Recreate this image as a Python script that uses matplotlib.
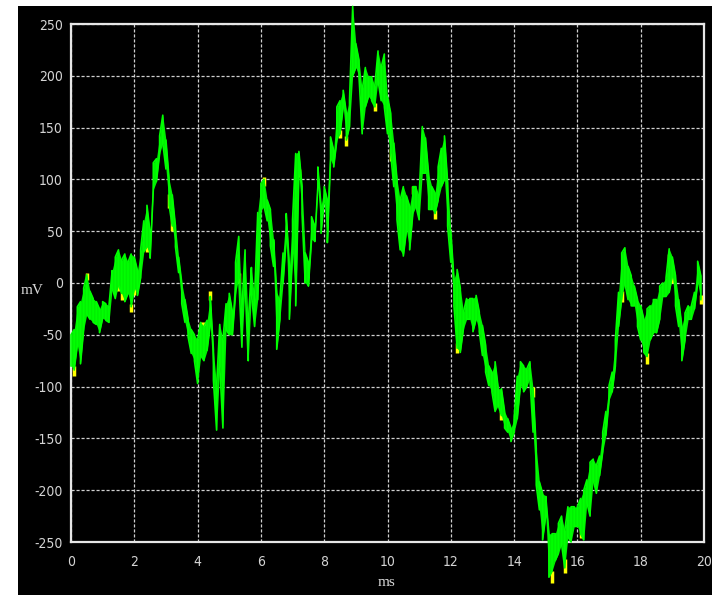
import numpy as np
import matplotlib
matplotlib.use("Agg")
import matplotlib.pyplot as plt
from matplotlib.patches import Rectangle

# Sample times (ms) of the recorded trace, one every 0.1 ms
t_ms = np.round(np.arange(0.0, 20.0, 0.1), 1)

# Lower and upper envelope of the green channel at each sample (mV)
green_lo = [
    -80, -84, -60, -78, -45, -30, -35, -38, -40, -48,
    -34, -36, -38, -5, -15, -2, -10, -18, -10, -23,
    -5, -12, 5, 30, 35, 24, 90, 98, 125, 135,
    110, 75, 55, 35, 10, -20, -38, -52, -68, -75,
    -97, -70, -75, -65, -40, -94, -142, -80, -140, -45,
    -50, -50, -10, 5, -62, 0, -75, -10, -42, -16,
    70, 74, 60, 36, 16, -64, -35, 0, 42, -35,
    29, -22, 106, 67, 0, -3, 42, 40, 93, 48,
    80, 39, 119, 112, 138, 144, 170, 138, 151, 200,
    208, 199, 144, 170, 180, 176, 170, 196, 176, 170,
    144, 125, 93, 61, 32, 26, 51, 32, 67, 74,
    61, 106, 106, 71, 71, 67, 80, 93, 100, 55,
    20, -22, -63, -67, -44, -35, -35, -47, -35, -47,
    -70, -86, -99, -105, -124, -118, -128, -140, -144, -153,
    -144, -131, -99, -105, -100, -92, -144, -195, -219, -248,
    -225, -284, -278, -268, -261, -252, -275, -245, -250, -235,
    -235, -242, -248, -212, -225, -190, -203, -186, -163, -147,
    -113, -105, -80, -42, -15, 0, -16, -22, -22, -42,
    -55, -67, -71, -55, -48, -48, -35, -13, -13, -9,
    7, -22, -42, -75, -55, -35, -35, -25, 0, -16,
]
green_hi = [
    -50, -45, -23, -18, -5, 8, -8, -15, -18, -25,
    -18, -20, -22, 12, 25, 32, 22, 28, 20, 28,
    25, 12, 32, 60, 75, 48, 116, 120, 142, 162,
    138, 100, 85, 55, 25, 0, -16, -35, -45, -50,
    -55, -38, -42, -36, -13, -65, -100, -40, -55, -20,
    -10, -28, 20, 45, -25, 32, -40, 15, -15, 68,
    96, 100, 80, 71, 42, -9, -16, 29, 67, 16,
    61, 125, 127, 93, 29, 20, 64, 55, 112, 74,
    93, 80, 141, 128, 170, 176, 186, 164, 176, 267,
    231, 215, 186, 208, 199, 199, 190, 224, 208, 221,
    180, 164, 135, 100, 80, 93, 84, 74, 93, 93,
    84, 151, 140, 105, 93, 87, 112, 130, 142, 97,
    50, 4, 13, -5, -28, -15, -15, -15, -12, -28,
    -41, -60, -80, -86, -76, -102, -102, -124, -131, -140,
    -131, -90, -76, -80, -83, -76, -102, -160, -192, -203,
    -206, -242, -242, -242, -232, -225, -239, -216, -216, -216,
    -216, -208, -200, -190, -173, -170, -176, -167, -144, -124,
    -99, -86, -55, -9, 29, 34, 16, 7, -3, -16,
    -22, -35, -25, -22, -16, -16, -3, 0, 5, 33,
    25, 7, -16, -42, -29, -22, -22, -9, 21, 7,
]

# Second (yellow) channel where it shows beside the green one: time, low, high
yellow_t = [0.1, 0.5, 1.5, 1.6, 1.9, 2.0, 2.4, 3.1, 3.2, 4.1, 4.2, 4.4,
            5.3, 6.1, 7.2, 8.5, 8.7, 9.6, 10.1, 10.8, 11.5, 12.2, 13.6,
            14.6, 15.2, 15.6, 16.1, 17.4, 18.2, 18.9, 19.0, 19.9]
yellow_lo = [-90, 3, -8, -16, -28, -12, 30, 72, 50, -48, -46, -16,
             0, 94, 102, 140, 132, 166, 118, 86, 62, -68, -132,
             -110, -290, -280, -246, -18, -78, 16, 0, -20]
yellow_hi = [-80, 10, 0, -8, -20, -4, 40, 86, 64, -38, -38, -8,
             10, 102, 110, 148, 142, 174, 130, 94, 70, -58, -124,
             -100, -278, -266, -236, -8, -68, 28, 10, -12]

x_ticks = list(range(0, 21, 2))
y_ticks = list(range(-250, 251, 50))

fig = plt.figure(figsize=(7.12, 5.95), dpi=100, facecolor="white")
# black instrument panel behind the plot
fig.patches.append(Rectangle((18 / 712, 0), 1 - 18 / 712, 589 / 595,
                             transform=fig.transFigure, facecolor="black",
                             edgecolor="none", zorder=-10))

ax = fig.add_axes([71 / 712, 53 / 595, 633 / 712, 518 / 595])
ax.set_facecolor("black")
ax.set_xlim(0, 20)
ax.set_ylim(-250, 250)
ax.set_xticks(x_ticks)
ax.set_yticks(y_ticks)

tick_kw = dict(family="DejaVu Sans", fontstretch="condensed", fontsize=10, color="#d4d4d4")
ax.set_xticklabels([str(v) for v in x_ticks], **tick_kw)
ax.set_yticklabels([str(v) for v in y_ticks], **tick_kw)
ax.tick_params(axis="both", length=0)
ax.tick_params(axis="x", pad=9)
ax.tick_params(axis="y", pad=6)

for side in ("left", "bottom", "top", "right"):
    ax.spines[side].set_color("#e6e6e6")
    ax.spines[side].set_linewidth(1.6)

ax.grid(True, color="#cfcfcf", linestyle=(0, (2.5, 1.5)), linewidth=0.9)
ax.set_axisbelow(True)

fig.text(32 / 712, 1 - 290 / 595, "mV", family=["Liberation Serif", "DejaVu Serif"],
         fontsize=11, color="#d9d9d9", ha="center", va="center")
fig.text(387 / 712, 1 - 582 / 595, "ms", family=["Liberation Serif", "DejaVu Serif"],
         fontsize=11, color="#d9d9d9", ha="center", va="center")

# yellow channel underneath
ax.vlines(yellow_t, yellow_lo, yellow_hi, colors="#ffff00", linewidth=2.5, clip_on=False, zorder=3)

# green channel: filled envelope plus the fast zig-zag between its edges
green_lo_a = np.array(green_lo, dtype=float)
green_hi_a = np.array(green_hi, dtype=float)
ax.fill_between(t_ms, green_lo_a, green_hi_a, color="#00f000", linewidth=0,
                clip_on=False, zorder=4)
order = np.where(np.arange(len(t_ms)) % 2 == 0, 0, 1)
zig_y = np.where(order[:, None] == 0,
                 np.column_stack([green_lo_a, green_hi_a]),
                 np.column_stack([green_hi_a, green_lo_a])).ravel()
zig_x = np.repeat(t_ms, 2)
ax.plot(zig_x, zig_y, color="#00ff00", linewidth=1.2, clip_on=False, zorder=5)

fig.savefig("out.png", dpi=100, facecolor="white")
